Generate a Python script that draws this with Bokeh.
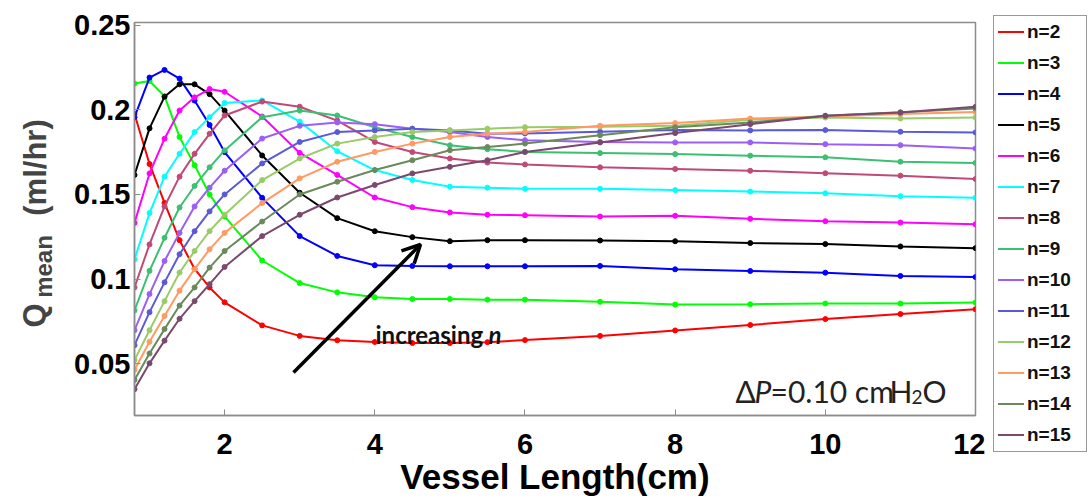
import math
from bokeh.plotting import figure
from bokeh.layouts import row
from bokeh.models import Label, Arrow, OpenHead, FixedTicker, Range1d, Div
from bokeh.embed import file_html
from bokeh.resources import INLINE

# ---------------- data ----------------
vessel_length = [0.8, 1.0, 1.2, 1.4, 1.6, 1.8, 2.0, 2.5, 3.0, 3.5, 4.0, 4.5,
                 5.0, 5.5, 6.0, 7, 8, 9, 10, 11, 12]

q_n2 = [0.1975, 0.168, 0.145, 0.123, 0.106, 0.0951, 0.0863, 0.0727, 0.0665, 0.0639, 0.0629,
        0.0623, 0.0623, 0.0628, 0.064, 0.0665, 0.0697, 0.0729, 0.0764, 0.0794, 0.0822]
q_n3 = [0.2155, 0.217, 0.208, 0.1839, 0.1673, 0.15, 0.137, 0.111, 0.0977, 0.0922, 0.0893,
        0.0883, 0.0883, 0.0879, 0.0879, 0.0866, 0.085, 0.0852, 0.0856, 0.0856, 0.0862]
q_n4 = [0.1956, 0.219, 0.2235, 0.2184, 0.2054, 0.191, 0.175, 0.148, 0.1254, 0.1137, 0.1082,
        0.1078, 0.1076, 0.1076, 0.1076, 0.1078, 0.1058, 0.1048, 0.1038, 0.1019, 0.1012]
q_n5 = [0.1615, 0.189, 0.2077, 0.215, 0.215, 0.2092, 0.1995, 0.173, 0.151, 0.136, 0.1283,
        0.1248, 0.1224, 0.123, 0.123, 0.1228, 0.1224, 0.1213, 0.1207, 0.1193, 0.1183]
q_n6 = [0.1332, 0.1624, 0.1829, 0.1995, 0.2073, 0.2122, 0.2106, 0.196, 0.1745, 0.1615, 0.1482,
        0.1425, 0.1394, 0.138, 0.1377, 0.137, 0.1374, 0.1356, 0.1342, 0.1334, 0.1324]
q_n7 = [0.1117, 0.139, 0.1605, 0.174, 0.1868, 0.1956, 0.204, 0.2055, 0.193, 0.1755, 0.1644,
        0.1585, 0.1546, 0.154, 0.1533, 0.1533, 0.1526, 0.1517, 0.1507, 0.149, 0.148]
q_n8 = [0.0951, 0.1205, 0.1429, 0.1605, 0.174, 0.1858, 0.1966, 0.2048, 0.2018, 0.1936, 0.181,
        0.175, 0.1712, 0.1688, 0.1677, 0.166, 0.165, 0.164, 0.1625, 0.1611, 0.1591]
q_n9 = [0.0815, 0.1049, 0.1244, 0.1423, 0.155, 0.166, 0.176, 0.1956, 0.1995, 0.1966, 0.1897,
        0.1839, 0.179, 0.1767, 0.1751, 0.1744, 0.1738, 0.1729, 0.1719, 0.1693, 0.1686]
q_n10 = [0.0698, 0.0912, 0.1107, 0.1273, 0.1429, 0.154, 0.164, 0.183, 0.1905, 0.1925, 0.1915,
         0.1888, 0.1868, 0.1839, 0.182, 0.181, 0.1807, 0.1807, 0.1797, 0.1791, 0.1771]
q_n11 = [0.061, 0.0805, 0.0981, 0.1147, 0.1283, 0.140, 0.150, 0.1683, 0.181, 0.1868, 0.1878,
         0.1888, 0.1878, 0.1858, 0.186, 0.187, 0.188, 0.1878, 0.188, 0.187, 0.1866]
q_n12 = [0.0522, 0.0698, 0.087, 0.1039, 0.1166, 0.1283, 0.138, 0.1585, 0.1712, 0.18, 0.1839,
         0.1868, 0.1878, 0.1888, 0.1897, 0.19, 0.1905, 0.1941, 0.1954, 0.1948, 0.1954]
q_n13 = [0.0464, 0.063, 0.0783, 0.0932, 0.1059, 0.1176, 0.1273, 0.1449, 0.1595, 0.1693, 0.1751,
         0.18, 0.1839, 0.1858, 0.1868, 0.1905, 0.1921, 0.1948, 0.196, 0.1975, 0.1987]
q_n14 = [0.0405, 0.0561, 0.0705, 0.0844, 0.0951, 0.1068, 0.1166, 0.134, 0.15, 0.1575, 0.1644,
         0.1702, 0.1761, 0.178, 0.18, 0.185, 0.1896, 0.1925, 0.1964, 0.1985, 0.2007]
q_n15 = [0.035, 0.0503, 0.0637, 0.0766, 0.087, 0.097, 0.1072, 0.1254, 0.138, 0.1482, 0.1556,
         0.1624, 0.1663, 0.1702, 0.1751, 0.1807, 0.1862, 0.1915, 0.1964, 0.1983, 0.2017]

series_labels = ["n=2", "n=3", "n=4", "n=5", "n=6", "n=7", "n=8", "n=9",
                 "n=10", "n=11", "n=12", "n=13", "n=14", "n=15"]
series_values = [q_n2, q_n3, q_n4, q_n5, q_n6, q_n7, q_n8, q_n9,
                 q_n10, q_n11, q_n12, q_n13, q_n14, q_n15]
series_colors = ["#ff0000", "#00ff00", "#0000ff", "#000000", "#ff00ff", "#00ffff",
                 "#bf4a78", "#3cbf72", "#9b5ff5", "#5a5ad8", "#98cc68", "#ff9a62",
                 "#6b8a5c", "#7a4a6e"]

x_ticks = [2, 4, 6, 8, 10, 12]
y_ticks = [0.05, 0.1, 0.15, 0.2, 0.25]
y_tick_labels = ["0.05", "0.1", "0.15", "0.2", "0.25"]

# ---------------- layout (page pixels) ----------------
H = 500
W_YL = 56                      # strip holding the y-axis title
FL, FW, FR = 78, 841, 10       # main figure: left border, frame width, right border
FT, FB = 22, 85
W_MAIN = FL + FW + FR
W_LEG = 1089 - W_YL - W_MAIN   # strip holding the legend
FH = H - FT - FB
X0, X1 = 0.8, 12.0
Y0, Y1 = 0.0195, 0.2515
FONT = "Liberation Sans"
ANNOT_FONT = "Lato"
GRAY = "#8c8c8c"
FRAME_LEFT = W_YL + FL


def dx(sx):
    # page x -> data x of the main plot
    return X0 + (sx - FRAME_LEFT) * (X1 - X0) / FW


def dy(sy):
    # page y -> data y of the main plot
    return Y1 - (sy - FT) * (Y1 - Y0) / FH


# ---------------- main plot ----------------
p = figure(width=W_MAIN, height=H, x_range=Range1d(X0, X1), y_range=Range1d(Y0, Y1),
           output_backend="svg", toolbar_location=None,
           min_border_left=FL, min_border_right=FR, min_border_top=FT, min_border_bottom=FB)
p.background_fill_color = "white"
p.border_fill_color = "white"
p.outline_line_color = GRAY
p.outline_line_width = 1.5
p.xgrid.visible = False
p.ygrid.visible = False

for ax in (p.xaxis[0], p.yaxis[0]):
    ax.axis_line_color = GRAY
    ax.axis_line_width = 1.5
    ax.major_tick_line_color = GRAY
    ax.major_tick_in = 6
    ax.major_tick_out = 0
    ax.minor_tick_line_color = None
    ax.major_label_text_font = FONT
    ax.major_label_text_font_style = "bold"
    ax.major_label_text_font_size = "29px"
    ax.major_label_text_color = "black"

p.xaxis.ticker = FixedTicker(ticks=x_ticks)
p.yaxis.ticker = FixedTicker(ticks=y_ticks)
p.yaxis.major_label_overrides = {t: s for t, s in zip(y_ticks, y_tick_labels)}
p.xaxis.major_label_standoff = 18
p.yaxis.major_label_standoff = 4
p.xaxis.axis_label = "Vessel Length(cm)"
p.xaxis.axis_label_text_font = FONT
p.xaxis.axis_label_text_font_style = "bold"
p.xaxis.axis_label_text_font_size = "35px"
p.xaxis.axis_label_text_color = "black"
p.xaxis.axis_label_standoff = 0

for vals, col in zip(series_values, series_colors):
    p.line(vessel_length, vals, line_color=col, line_width=2.0)
    p.scatter(vessel_length, vals, size=5, color=col)

# arrow + "increasing n"
p.add_layout(Arrow(x_start=dx(293), y_start=dy(372), x_end=dx(420), y_end=dy(244),
                   line_width=3.5, line_color="black",
                   end=OpenHead(size=18, line_width=3.5, line_color="black")))
p.add_layout(Label(x=dx(375), y=dy(334), text="increasing", text_font=ANNOT_FONT,
                   text_font_style="bold", text_font_size="24px", text_color="#111111",
                   text_align="left", text_baseline="alphabetic"))
p.add_layout(Label(x=dx(488), y=dy(334), text="n", text_font=ANNOT_FONT,
                   text_font_style="bold italic", text_font_size="24px", text_color="#111111",
                   text_align="left", text_baseline="alphabetic"))

# ΔP=0.10 cmH2O
dp_parts = [("Δ", 735, "normal", "30px", 390), ("P", 754, "italic", "30px", 390),
            ("=0.10 cm", 770, "normal", "30px", 390), ("H", 889, "normal", "30px", 390),
            ("2", 911, "normal", "19px", 396), ("O", 922, "normal", "30px", 390)]
for txt, sx, style, size, sy in dp_parts:
    p.add_layout(Label(x=dx(sx), y=dy(sy), text=txt, text_font=ANNOT_FONT,
                       text_font_style=style, text_font_size=size, text_color="#222222",
                       text_align="left", text_baseline="alphabetic"))

# ---------------- y-axis title strip ----------------
# its frame is aligned with the main frame (page y FT .. H-FB); data y = H - page y
yl = figure(width=W_YL, height=H, x_range=Range1d(0, W_YL), y_range=Range1d(FB, H - FT),
            output_backend="svg", toolbar_location=None,
            x_axis_location=None, y_axis_location=None,
            min_border_left=0, min_border_right=0, min_border_top=FT, min_border_bottom=FB)
yl.outline_line_color = None
yl.background_fill_color = "white"
yl.border_fill_color = "white"
yl.xgrid.visible = False
yl.ygrid.visible = False
for g in yl.grid:
    g.visible = False
yl.add_layout(Label(x=34, y=H - 315, text="Q", angle=math.pi / 2,
                    text_font=FONT, text_font_style="bold", text_font_size="31px",
                    text_align="center", text_baseline="alphabetic"))
yl.add_layout(Label(x=43, y=H - 266, text="mean", angle=math.pi / 2,
                    text_font=FONT, text_font_style="bold", text_font_size="24px",
                    text_align="center", text_baseline="alphabetic"))
yl.add_layout(Label(x=35, y=H - 167, text="(ml/hr)", angle=math.pi / 2,
                    text_font=FONT, text_font_style="bold", text_font_size="31px",
                    text_align="center", text_baseline="alphabetic"))

# ---------------- legend strip (HTML) ----------------
LEG_LEFT, LEG_TOP, LEG_W, LEG_H, LEG_PITCH = 8, 15, 94, 437, 31
rows_html = []
for i, (lab, col) in enumerate(zip(series_labels, series_colors)):
    cy = 16 + LEG_PITCH * i
    rows_html.append(
        f'<div style="position:absolute;left:4px;top:{cy - 1}px;width:26px;height:2.4px;'
        f'background:{col};"></div>'
        f'<div style="position:absolute;left:33px;top:{cy - 11}px;height:22px;line-height:22px;'
        f'font-family:\'{FONT}\';font-weight:bold;font-size:19px;color:#111;">{lab}</div>')
legend_html = (
    f'<div style="position:relative;width:{W_LEG}px;height:{H}px;background:#fff;">'
    f'<div style="position:absolute;left:{LEG_LEFT}px;top:{LEG_TOP}px;width:{LEG_W}px;'
    f'height:{LEG_H}px;border:1.2px solid #999;box-sizing:border-box;background:#fff;">'
    + "".join(rows_html) + '</div></div>')
lg = Div(text=legend_html, width=W_LEG, height=H, margin=0)

layout = row(yl, p, lg, spacing=0)
open("out.html", "w").write(file_html(layout, INLINE))
